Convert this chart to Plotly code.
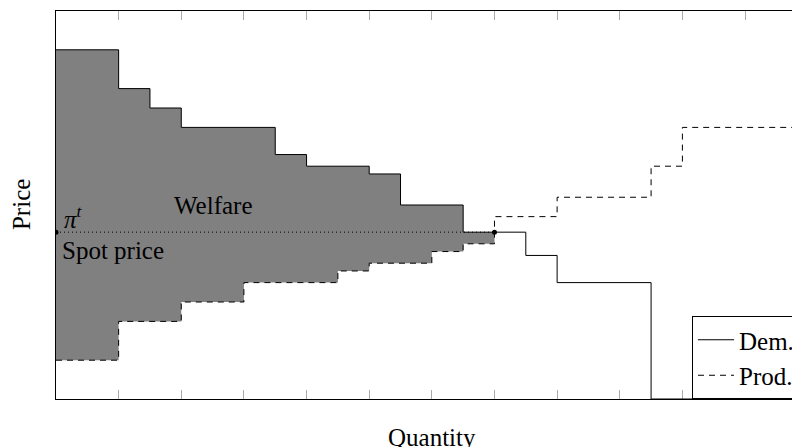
import plotly.graph_objects as go

# step breakpoints (quantity) and the price held on each step
dem_q = [0, 1, 1.5, 2, 3.5, 4, 5, 5.5, 6.5, 7.5, 8, 9.5, 12]
dem_p = [4.5, 4.0, 3.75, 3.5, 3.15, 3.0, 2.9, 2.5, 2.15, 1.85, 1.5, 0]
prod_q = [0, 1, 2, 3, 4.5, 5, 6, 6.5, 7, 8, 9.5, 10, 12]
prod_p = [0.5, 1.0, 1.25, 1.5, 1.65, 1.75, 1.9, 2.0, 2.35, 2.6, 3.0, 3.5]

q_star = 7
spot = 2.15

x_ticks = list(range(1, 12))
y_ticks = [1, 2, 3, 4]

FONT = "Liberation Serif"


def step_xy(q, p):
    # hv step line: repeat last value at the final breakpoint
    return list(q), list(p) + [p[-1]]


def welfare_polygon():
    xs, ys = [], []
    for i, p in enumerate(dem_p):
        left, right = dem_q[i], min(dem_q[i + 1], q_star)
        if left >= q_star:
            break
        xs += [left, right]
        ys += [p, p]
    bx, by = [], []
    for i, p in enumerate(prod_p):
        left, right = prod_q[i], min(prod_q[i + 1], q_star)
        if left >= q_star:
            break
        bx += [left, right]
        by += [p, p]
    xs += bx[::-1]
    ys += by[::-1]
    xs.append(xs[0])
    ys.append(ys[0])
    return xs, ys


fig = go.Figure()

wx, wy = welfare_polygon()
fig.add_trace(go.Scatter(
    x=wx, y=wy, mode="lines", fill="toself", fillcolor="#808080",
    line=dict(width=0), showlegend=False, hoverinfo="skip",
))

dx, dy = step_xy(dem_q, dem_p)
fig.add_trace(go.Scatter(
    x=dx, y=dy, mode="lines", line_shape="hv", name="Dem.",
    line=dict(color="black", width=1),
))

px_, py_ = step_xy(prod_q, prod_p)
fig.add_trace(go.Scatter(
    x=px_, y=py_, mode="lines", line_shape="hv", name="Prod.",
    line=dict(color="black", width=1, dash="6px,5px"),
))

# spot price line with end dots
fig.add_trace(go.Scatter(
    x=[0, q_star], y=[spot, spot], mode="lines+markers",
    line=dict(color="black", width=1, dash="1px,3px"),
    marker=dict(color="black", size=5),
    showlegend=False, hoverinfo="skip",
))

# invisible trace carrying the right-hand tick axis
fig.add_trace(go.Scatter(
    x=[0], y=[0], yaxis="y2", mode="markers", marker=dict(opacity=0),
    showlegend=False, hoverinfo="skip",
))

fig.add_annotation(x=0.09, y=spot - 0.04, text="<i>π<sup>t</sup></i>",
                   showarrow=False, xanchor="left", yanchor="bottom",
                   font=dict(family=FONT, size=25, color="black"))
fig.add_annotation(x=0.06, y=1.92, text="Spot price",
                   showarrow=False, xanchor="left", yanchor="middle",
                   font=dict(family=FONT, size=25, color="black"))
fig.add_annotation(x=2.5, y=2.49, text="Welfare",
                   showarrow=False, xanchor="center", yanchor="middle",
                   font=dict(family=FONT, size=25, color="black"))

fig.add_annotation(xref="paper", yref="paper", x=0.505, y=-0.098,
                   text="Quantity", showarrow=False, yanchor="middle",
                   font=dict(family=FONT, size=25, color="black"))
fig.add_annotation(xref="paper", yref="paper", x=-0.047, y=0.5,
                   text="Price", showarrow=False, textangle=-90,
                   xanchor="center", yanchor="middle",
                   font=dict(family=FONT, size=25, color="black"))

# page has an 8px body margin, so the figure is sized to fit the window
fig.update_layout(
    width=792, height=439,
    margin=dict(l=48, r=0, t=3, b=48),
    plot_bgcolor="white", paper_bgcolor="white",
    font=dict(family=FONT, size=25, color="black"),
    xaxis=dict(
        range=[0, 744 / 62.64], showgrid=False, zeroline=False,
        showline=True, linecolor="black", linewidth=1, mirror="ticks",
        ticks="inside", ticklen=9, tickcolor="#aaaaaa", tickwidth=1,
        tickvals=x_ticks, showticklabels=False, layer="below traces",
    ),
    yaxis=dict(
        range=[0, 5], showgrid=False, zeroline=False,
        showline=True, linecolor="black", linewidth=1,
        ticks="inside", ticklen=9, tickcolor="#aaaaaa",
        tickvals=y_ticks, showticklabels=False, layer="below traces",
    ),
    yaxis2=dict(
        range=[0, 5], overlaying="y", side="right", showgrid=False,
        zeroline=False, showline=False, ticks="inside", ticklen=2,
        tickcolor="#aaaaaa", tickvals=y_ticks, showticklabels=False,
    ),
    legend=dict(
        x=(692 - 56) / 744, y=0, xanchor="left", yanchor="bottom",
        bgcolor="white", bordercolor="black", borderwidth=1,
        font=dict(family=FONT, size=25, color="black"),
        tracegroupgap=0, itemwidth=36,
    ),
)

fig.write_html("out.html")
